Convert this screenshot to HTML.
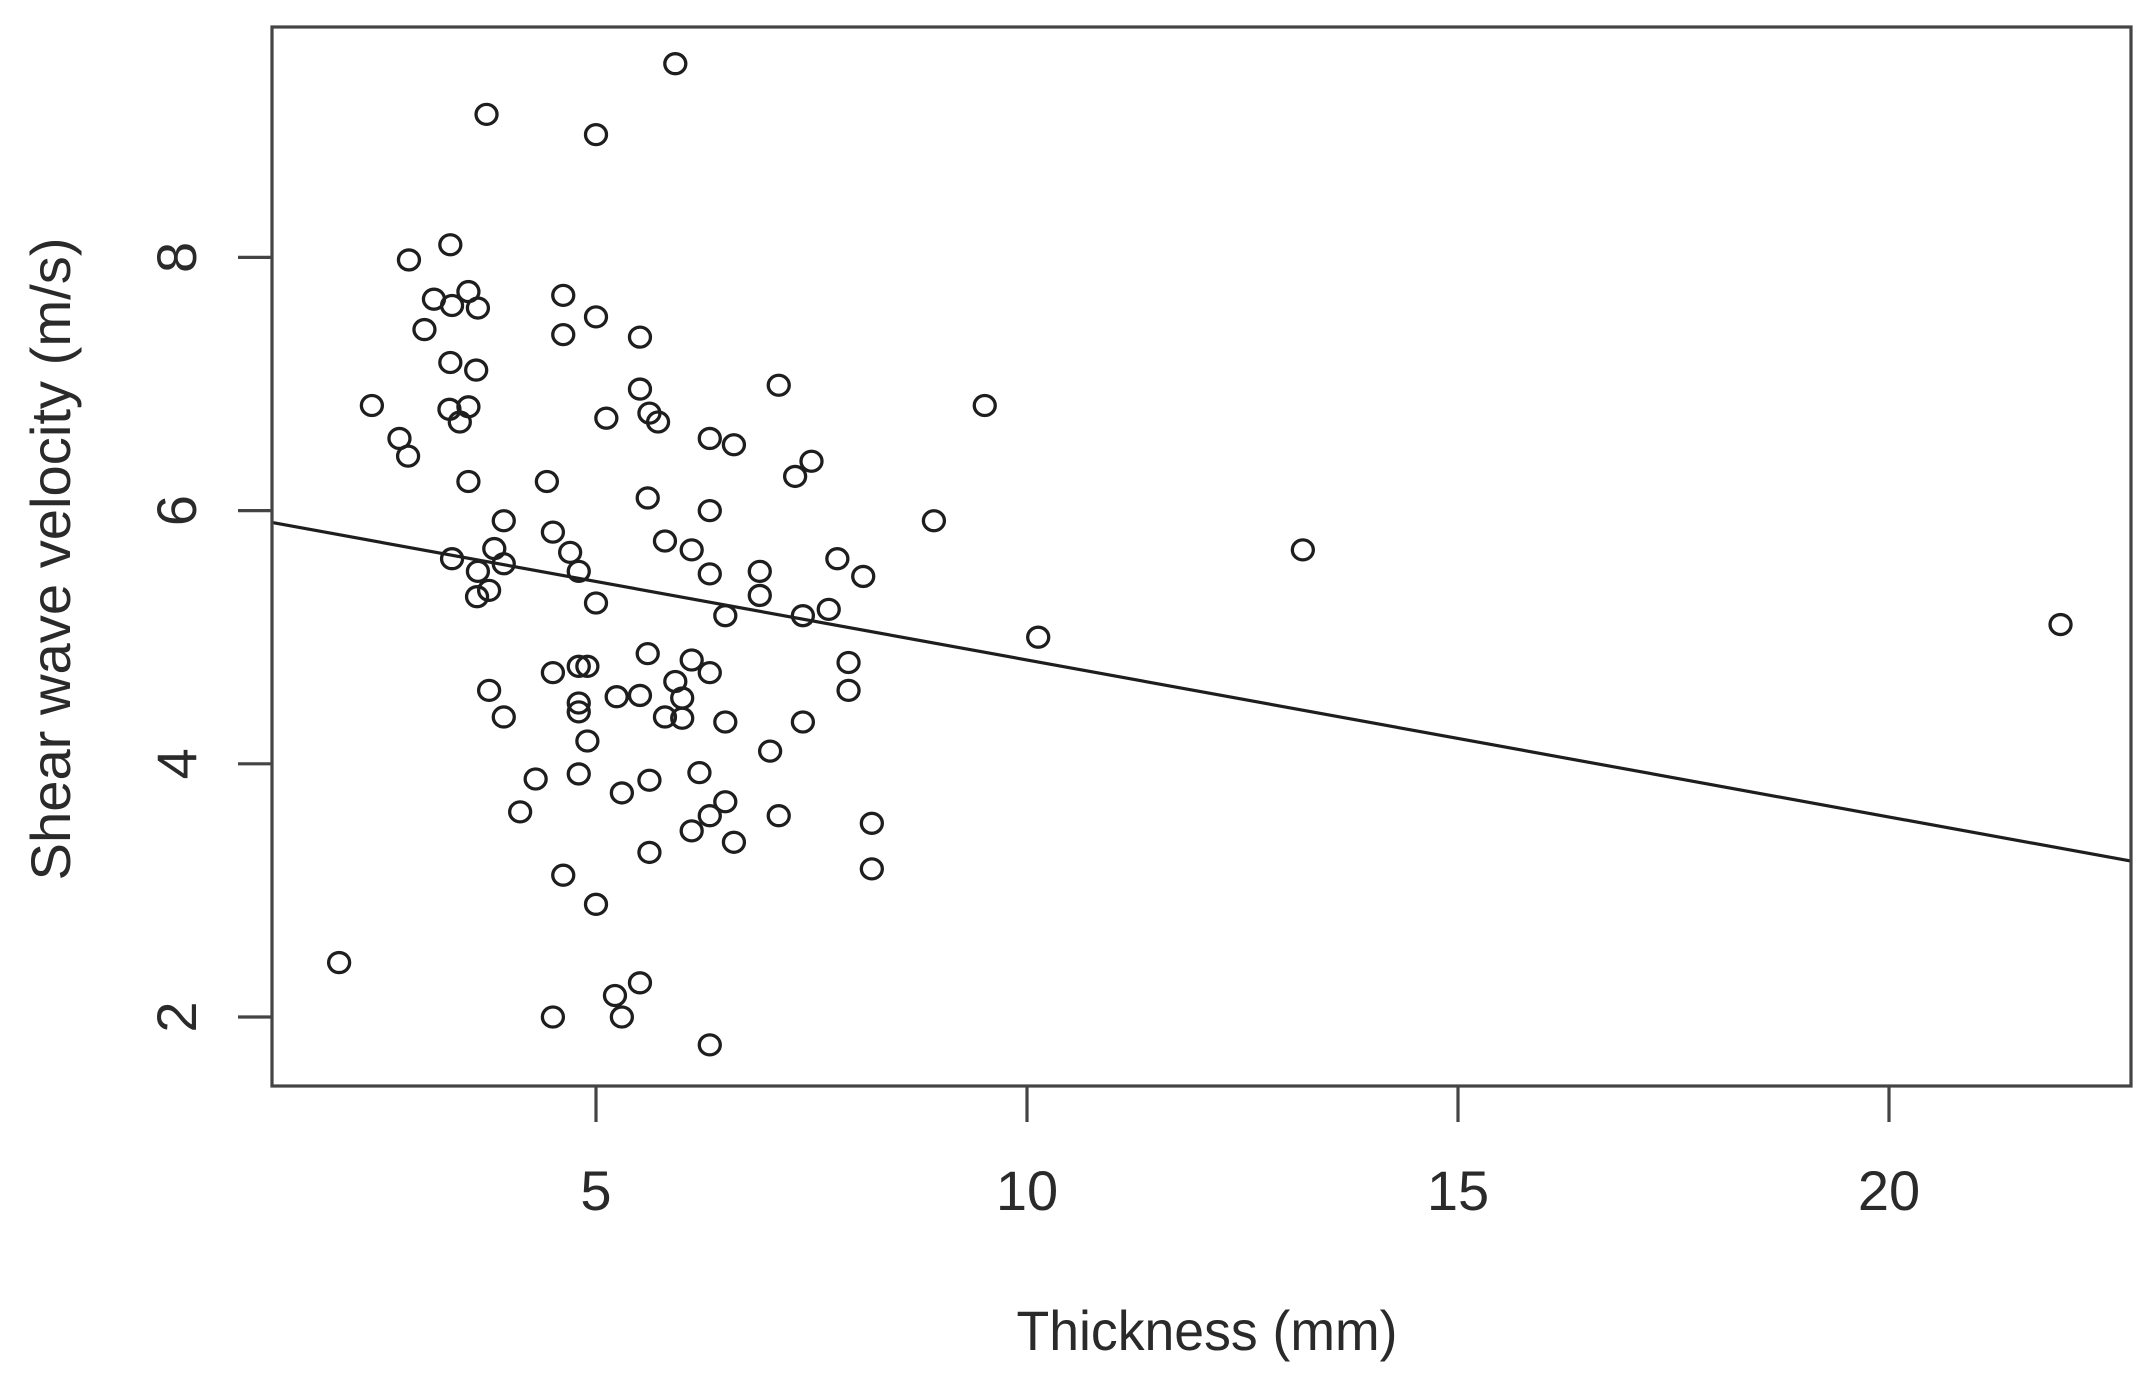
<!DOCTYPE html>
<html><head><meta charset="utf-8"><style>
html,body{margin:0;padding:0;background:#fff;}
svg{display:block;font-family:"Liberation Sans",Arial,sans-serif;}
</style></head><body>
<svg id="chart" width="2155" height="1377" viewBox="0 0 2155 1377" xmlns="http://www.w3.org/2000/svg">
<rect width="2155" height="1377" fill="#fff"/>
<g id="marks"></g>
<g id="axes"></g>
</svg>
<script>
const thickness = [5.92,3.73,5.0,2.83,3.31,3.12,3.33,3.52,3.63,3.01,3.31,3.61,2.4,3.3,3.52,3.42,2.72,2.82,3.52,4.62,4.62,5.0,5.51,5.51,5.62,5.72,5.12,4.43,6.32,6.6,7.12,7.31,7.5,9.51,5.6,6.32,3.93,4.5,5.8,3.82,4.7,6.11,3.33,3.93,3.63,4.8,6.32,6.9,7.8,8.1,3.76,3.62,6.9,5.0,7.7,7.4,6.5,8.92,13.2,10.13,21.99,5.6,6.11,7.93,4.8,4.9,4.5,6.32,5.92,3.76,7.93,5.24,5.51,6.0,4.8,4.8,3.93,5.8,6.0,6.5,7.4,4.9,7.02,4.3,4.8,5.3,5.62,6.2,6.5,4.12,6.32,7.12,8.2,6.11,6.6,5.62,8.2,4.62,5.0,2.02,5.51,5.22,4.5,5.3,6.32];
const velocity = [9.53,9.13,8.97,7.98,8.1,7.67,7.62,7.73,7.6,7.43,7.17,7.11,6.83,6.8,6.82,6.7,6.57,6.43,6.23,7.7,7.39,7.53,7.37,6.96,6.77,6.7,6.73,6.23,6.57,6.52,6.99,6.27,6.39,6.83,6.1,6.0,5.92,5.83,5.76,5.7,5.67,5.69,5.62,5.58,5.52,5.52,5.5,5.52,5.62,5.48,5.37,5.32,5.33,5.27,5.22,5.17,5.17,5.92,5.69,5.0,5.1,4.87,4.82,4.8,4.77,4.77,4.72,4.72,4.65,4.58,4.58,4.53,4.54,4.52,4.48,4.41,4.37,4.37,4.36,4.33,4.33,4.18,4.1,3.88,3.92,3.77,3.87,3.93,3.7,3.62,3.59,3.59,3.53,3.47,3.38,3.3,3.17,3.12,2.89,2.43,2.27,2.17,2.0,2.0,1.78];
const xTicks = [5,10,15,20];
const yTicks = [2,4,6,8];
const fitIntercept = [6.06];
const fitSlope = [-0.124];
const xDomain = [1.24,22.8];

const L=272,R=2131,T=27,B=1086;
function xs(t){return 596+(t-5)*86.2;}
function ys(v){return 1017-(v-2)*126.6;}
const NS="http://www.w3.org/2000/svg";
function mk(tag,attrs,parent){const e=document.createElementNS(NS,tag);for(const k in attrs)e.setAttribute(k,attrs[k]);parent.appendChild(e);return e;}
const marks=document.getElementById('marks'), axes=document.getElementById('axes');

for(let i=0;i<thickness.length;i++){
  const c=mk('ellipse',{cx:xs(thickness[i]),cy:ys(velocity[i]),rx:10.5,ry:10,fill:'none',stroke:'#1e1e1e','stroke-width':3.3},marks);
  
  
}
const fl=mk('line',{x1:xs(xDomain[0]),y1:ys(fitIntercept[0]+fitSlope[0]*xDomain[0]),x2:xs(xDomain[1]),y2:ys(fitIntercept[0]+fitSlope[0]*xDomain[1]),stroke:'#1e1e1e','stroke-width':3.2},marks);



const fr=mk('rect',{x:L,y:T,width:R-L,height:B-T,fill:'none',stroke:'#444','stroke-width':3.2},axes);



xTicks.forEach(t=>{
  const tk=mk('line',{x1:xs(t),y1:B,x2:xs(t),y2:B+36,stroke:'#444','stroke-width':3.2},axes);
  
  
  const lb=mk('text',{x:xs(t),y:1210,'text-anchor':'middle','font-size':56,fill:'#2a2a2a'},axes);
  lb.textContent=t;
  
  
});
yTicks.forEach(v=>{
  const tk=mk('line',{x1:L-34,y1:ys(v),x2:L,y2:ys(v),stroke:'#444','stroke-width':3.2},axes);
  
  
  const lb=mk('text',{x:0,y:0,'text-anchor':'middle','font-size':56,fill:'#2a2a2a',transform:'translate(196,'+ys(v)+') rotate(-90)'},axes);
  lb.textContent=v;
  
  
});
const xt=mk('text',{x:1207,y:1350,'text-anchor':'middle','font-size':56,fill:'#2a2a2a',textLength:381,lengthAdjust:'spacingAndGlyphs'},axes);
xt.textContent='Thickness (mm)';


const yt=mk('text',{x:0,y:0,'text-anchor':'middle','font-size':56,fill:'#2a2a2a',textLength:643,lengthAdjust:'spacingAndGlyphs',transform:'translate(70,559) rotate(-90)'},axes);
yt.textContent='Shear wave velocity (m/s)';


</script>
</body></html>
